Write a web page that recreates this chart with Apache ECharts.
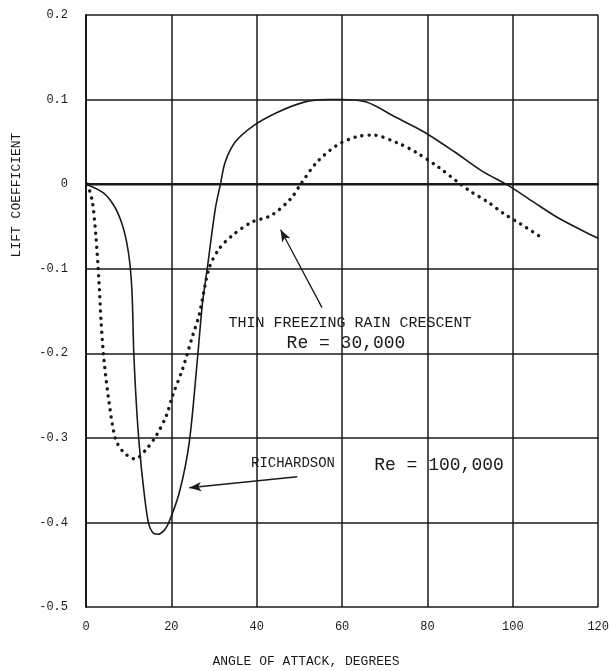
<!DOCTYPE html>
<html>
<head>
<meta charset="utf-8">
<script src="https://cdn.jsdelivr.net/npm/echarts@6/dist/echarts.min.js"></script>
<style>
  html, body { margin: 0; padding: 0; background: #fff; }
  #chart { width: 612px; height: 671px; }
</style>
</head>
<body>
<div id="chart"></div>
<script>
// Richardson, Re = 100,000 (solid)
const richardsonAngle = [0, 4, 6.5, 8.3, 9.5, 10.3, 10.8, 11.2, 11.8, 12.5, 13.5, 14.6, 15.6, 16.8, 18.2, 19.4, 21.9, 24.2, 26.1, 27.3, 28.4, 30.3, 31.5, 32.6, 35, 39.2, 44.9, 51.1, 56.5, 59.5, 65.7, 72.6, 79.1, 86.4, 92.6, 99.1, 104.8, 111, 118.7, 120];
const richardsonLift = [0, -0.010, -0.025, -0.045, -0.068, -0.095, -0.130, -0.200, -0.260, -0.310, -0.360, -0.400, -0.412, -0.414, -0.410, -0.400, -0.364, -0.305, -0.207, -0.140, -0.100, -0.029, 0, 0.026, 0.050, 0.069, 0.085, 0.097, 0.100, 0.100, 0.097, 0.079, 0.062, 0.038, 0.016, -0.002, -0.021, -0.041, -0.061, -0.064];

// Thin freezing rain crescent, Re = 30,000 (dotted)
const crescentAngle = [0.4, 1.5, 2.3, 3.1, 3.5, 4.2, 5.4, 6.9, 8.8, 11.5, 14.2, 16.5, 18.8, 20.3, 22.6, 25, 26.5, 28.8, 31.1, 34.2, 38.8, 43.4, 48, 50.3, 54.1, 58.8, 63.4, 67.2, 73.3, 77.2, 82.6, 87.2, 90.2, 94.1, 97.9, 101.8, 106.7];
const crescentLift = [0, -0.021, -0.060, -0.120, -0.160, -0.207, -0.258, -0.301, -0.317, -0.325, -0.313, -0.297, -0.274, -0.250, -0.219, -0.179, -0.155, -0.100, -0.077, -0.061, -0.045, -0.037, -0.017, 0, 0.026, 0.046, 0.056, 0.058, 0.048, 0.038, 0.020, 0.002, -0.009, -0.021, -0.035, -0.047, -0.063];

const xTicks = [0, 20, 40, 60, 80, 100, 120];
const yTicks = [0.2, 0.1, 0, -0.1, -0.2, -0.3, -0.4, -0.5];

// annotation arrows, [from, to] in data units
const crescentArrow = [[55.3, -0.146], [45.6, -0.054]];
const richardsonArrow = [[49.5, -0.346], [24.2, -0.359]];

const font = "'Liberation Mono', 'DejaVu Sans Mono', monospace";
const ink = '#1a1a1a';

const pairs = (xs, ys) => xs.map((x, i) => [x, ys[i]]);

const arrowLine = (a) => ({
  silent: true,
  symbol: ['none', 'arrow'],
  symbolSize: [7, 12],
  label: {show: false},
  lineStyle: {color: ink, width: 1.3, type: 'solid'},
  data: [[{coord: a[0]}, {coord: a[1]}]]
});

let chart = echarts.init(document.getElementById('chart'));
chart.setOption({
  backgroundColor: '#ffffff',
  animation: false,
  grid: {left: 86, top: 15, right: 10, bottom: 64},
  xAxis: {
    type: 'value',
    min: 0, max: 120, interval: 20,
    axisLine: {show: true, lineStyle: {color: ink, width: 2}},
    axisTick: {show: false},
    splitLine: {show: true, lineStyle: {color: ink, width: 1.5}},
    axisLabel: {
      margin: 14, color: ink, fontFamily: font, fontSize: 12,
      formatter: v => xTicks.indexOf(v) >= 0 ? String(v) : ''
    }
  },
  yAxis: {
    type: 'value',
    min: -0.5, max: 0.2, interval: 0.1,
    axisLine: {show: true, lineStyle: {color: ink, width: 2}},
    axisTick: {show: false},
    splitLine: {show: true, lineStyle: {color: ink, width: 1.5}},
    axisLabel: {
      margin: 18, color: ink, fontFamily: font, fontSize: 12,
      formatter: v => {
        let r = Math.round(v * 10) / 10;
        return r === 0 ? '0' : r.toFixed(1);
      }
    }
  },
  series: [
    {
      name: 'zero',
      type: 'line',
      data: [[0, 0], [120, 0]],
      symbol: 'none',
      silent: true,
      lineStyle: {color: ink, width: 2.5}
    },
    {
      name: 'Richardson Re = 100,000',
      type: 'line',
      data: pairs(richardsonAngle, richardsonLift),
      smooth: 0.3,
      symbol: 'none',
      lineStyle: {color: ink, width: 1.6},
      markLine: arrowLine(richardsonArrow)
    },
    {
      name: 'Thin freezing rain crescent Re = 30,000',
      type: 'line',
      data: pairs(crescentAngle, crescentLift),
      smooth: 0.3,
      symbol: 'none',
      lineStyle: {color: ink, width: 3.4, type: [0.1, 7], cap: 'round'},
      markLine: arrowLine(crescentArrow)
    }
  ],
  graphic: [
    {type: 'text', x: 306, y: 662,
      style: {text: 'ANGLE OF ATTACK, DEGREES', font: '13px ' + font, fill: ink, align: 'center', verticalAlign: 'middle'}},
    {type: 'text', x: 17, y: 195, rotation: Math.PI / 2,
      style: {text: 'LIFT COEFFICIENT', font: '13px ' + font, fill: ink, align: 'center', verticalAlign: 'middle'}},
    {type: 'text', x: 350, y: 323,
      style: {text: 'THIN FREEZING RAIN CRESCENT', font: '15px ' + font, fill: ink, align: 'center', verticalAlign: 'middle'}},
    {type: 'text', x: 346, y: 343,
      style: {text: 'Re = 30,000', font: '18px ' + font, fill: ink, align: 'center', verticalAlign: 'middle'}},
    {type: 'text', x: 293, y: 463,
      style: {text: 'RICHARDSON', font: '14px ' + font, fill: ink, align: 'center', verticalAlign: 'middle'}},
    {type: 'text', x: 439, y: 465,
      style: {text: 'Re = 100,000', font: '18px ' + font, fill: ink, align: 'center', verticalAlign: 'middle'}}
  ]
});
</script>
</body>
</html>
